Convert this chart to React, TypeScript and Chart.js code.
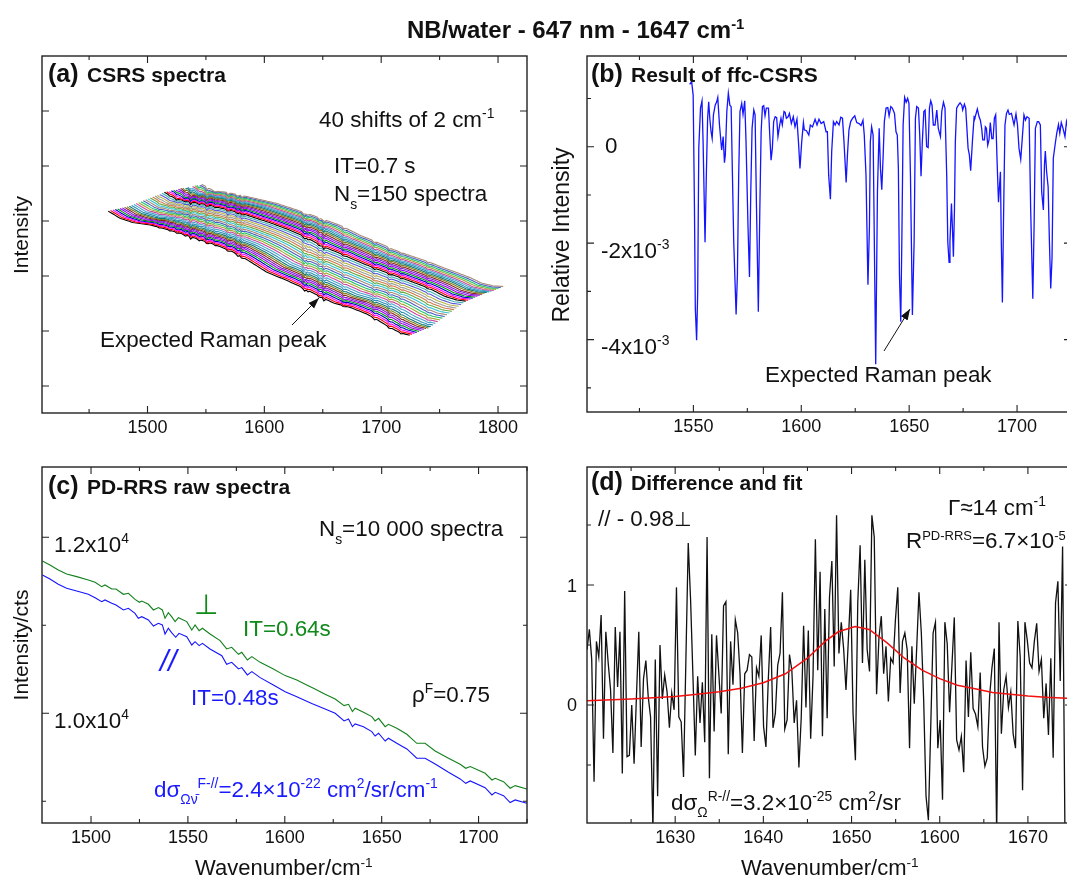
import React, { useEffect, useRef } from "react";
import { Chart, registerables } from "chart.js";

Chart.register(...registerables);

/* ---------- panel (a): CSRS spectra ----------
   The 41 traces cannot be read one by one. The lowest and
   highest trace, the height of each trace between them, and the fixed dips.
   Each trace is assembled from those lists, 2 cm-1 further along than the last. */
const csrsOffset = [0, 10.1, 21.5, 35.7, 50, 64.3, 78.5, 91.4, 105.7, 118.5, 135.7, 152.8, 164.2, 175.6, 192.7, 207, 221.3, 229.8, 239.8, 249.8, 258.4];
const csrsLowest = [4.18, 4.05, 3.97, 3.93, 3.85, 3.76, 3.66, 3.57, 3.45, 3.3, 3.07, 2.92, 2.81, 2.69, 2.51, 2.43, 2.31, 2.21, 2.08, 1.97, 1.92];
const csrsHighest = [4.67, 4.55, 4.52, 4.46, 4.39, 4.32, 4.22, 4.13, 4.02, 3.92, 3.74, 3.59, 3.48, 3.39, 3.27, 3.15, 3.04, 2.97, 2.87, 2.82, 2.81];
const csrsHeight = [0, 0.02, 0.04, 0.06, 0.08, 0.1, 0.12, 0.14, 0.16, 0.18, 0.21, 0.245, 0.28, 0.315, 0.35, 0.385, 0.42, 0.455, 0.49, 0.525, 0.56, 0.595, 0.63, 0.665, 0.7, 0.72, 0.74, 0.76, 0.78, 0.8, 0.82, 0.84, 0.86, 0.875, 0.89, 0.905, 0.92, 0.94, 0.96, 0.98, 1];
const csrsDipWn = [1510, 1519, 1525, 1532, 1537, 1544, 1551, 1558, 1569, 1577, 1581, 1634, 1637, 1647, 1651, 1668, 1694, 1707, 1717, 1740];
const csrsDipDepth = [0.015, 0.015, 0.02, 0.03, 0.05, 0.03, 0.05, 0.02, 0.04, 0.04, 0.04, 0.055, 0.035, 0.035, 0.05, 0.03, 0.035, 0.035, 0.02, 0.02];
const csrsColors = ["#000000", "#ff0000", "#ff00ff", "#0000c8", "#009a10", "#a000f0", "#7a20d0", "#8a2a20", "#80801a", "#127a78", "#3090b8", "#4aa4cc", "#c84aa0", "#a4a436", "#22c46a", "#4a62c4", "#a88a78", "#34c4d4", "#64a844", "#d07a48", "#9a9a9a", "#b4b448", "#5858d4", "#44b4b4"];
const csrsXMajor = [1500, 1600, 1700, 1800];
const csrsXMinor = [1450, 1550, 1650, 1750];
const csrsYMajor = [1, 2, 3, 4, 5, 6];

/* ---------- panel (b): Result of ffc-CSRS (units of 1e-3) ---------- */
const ffcX = [1548.3, 1549.2, 1549.9, 1550.5, 1550.9, 1551.5, 1552, 1552.5, 1553.3, 1554, 1554.5, 1555.4, 1556, 1556.6, 1557.1, 1557.6, 1558.2, 1558.7, 1559.3, 1560.1, 1560.8, 1561.3, 1562.1, 1563.1, 1563.8, 1564.4, 1564.8, 1565.5, 1566.2, 1566.9, 1567.5, 1568.1, 1568.7, 1569.3, 1569.8, 1570.4, 1571, 1571.6, 1572.4, 1573, 1573.8, 1574.4, 1575.3, 1576, 1576.6, 1577.2, 1578, 1578.6, 1579.2, 1580.1, 1580.8, 1581.4, 1582, 1582.6, 1583.2, 1583.8, 1584.8, 1585.4, 1586, 1586.6, 1587.2, 1587.9, 1588.6, 1589.2, 1590, 1590.6, 1591.2, 1592, 1592.5, 1593.1, 1593.9, 1594.5, 1595.4, 1596.3, 1597.1, 1598, 1598.7, 1599.4, 1600.2, 1601, 1601.4, 1602.4, 1603.5, 1604.2, 1605.2, 1606.4, 1607.3, 1608.2, 1609.2, 1610.4, 1611.5, 1612.1, 1612.7, 1613.5, 1614.1, 1614.9, 1615.7, 1616.4, 1617.5, 1618.3, 1619.1, 1619.8, 1620.8, 1621.4, 1622.1, 1622.9, 1623.8, 1624.8, 1625.7, 1626.8, 1627.7, 1628.6, 1629.2, 1630, 1630.9, 1631.6, 1632, 1632.6, 1633.3, 1634.5, 1635.3, 1636.1, 1636.7, 1637.3, 1637.9, 1638.5, 1639.3, 1640.1, 1640.7, 1641.5, 1642.2, 1643.2, 1643.9, 1644.5, 1645, 1645.5, 1646.1, 1646.6, 1647.2, 1647.9, 1648.6, 1649.3, 1649.9, 1650.6, 1651.5, 1652.3, 1652.9, 1653.5, 1654.3, 1654.9, 1655.5, 1656.1, 1656.8, 1657.4, 1658.1, 1658.8, 1659.4, 1660, 1660.6, 1661.2, 1662, 1662.8, 1663.5, 1664.5, 1665.1, 1665.9, 1666.6, 1667.4, 1667.9, 1668.5, 1668.9, 1669.6, 1670, 1670.5, 1671, 1671.4, 1672, 1672.8, 1673.6, 1674.4, 1674.8, 1675.6, 1676.2, 1677.3, 1677.9, 1678.5, 1679.3, 1680.1, 1680.5, 1681.6, 1682.4, 1683, 1683.6, 1684.1, 1684.9, 1685.3, 1685.8, 1686.4, 1687, 1687.6, 1688.3, 1688.9, 1689.5, 1690.1, 1690.7, 1691.4, 1691.8, 1692.3, 1692.7, 1693.2, 1693.8, 1694.4, 1695.1, 1695.8, 1696.4, 1697.4, 1698.6, 1699.5, 1700.2, 1700.9, 1701.7, 1702.3, 1703.2, 1703.9, 1704.6, 1705.6, 1706.3, 1707.3, 1707.9, 1708.5, 1709.4, 1710, 1710.8, 1711.4, 1712.2, 1712.7, 1713.1, 1713.7, 1714.4, 1715, 1715.6, 1716.2, 1716.8, 1717.6, 1718.4, 1719.2, 1719.8, 1720.5, 1721.3, 1722.2, 1722.9, 1723.5, 1725.3];
const ffcY = [1.29, 1.35, 1.07, -1.28, -3.35, -4.01, -3.01, -0.03, 0.8, 0.95, 0.1, -1.98, -0.59, 0.59, 0.93, 0.59, 0.31, 0.17, 0.66, 0.86, 0.93, 1.02, 0.45, -0.07, 0.21, -0.33, -0.17, 0.73, 1.11, 0.86, 0.83, -0.59, -1.97, -2.8, -3.48, -2.66, -0.59, 0.73, 0.9, 0.67, 0.95, 0.1, -1.63, -2.7, -0.93, 0.38, 0.76, 0.66, -1.14, -3.42, -1.28, 0.31, 0.83, 0.85, 0.64, 0.8, 0.8, 0.24, -0.28, -0.03, 0.52, 0.62, 0.6, 0.21, 0.45, 0.59, 0.45, 0.73, 0.71, 0.59, 0.62, 0.69, 0.48, 0.62, 0.41, 0.57, 0.1, -0.45, 0.1, 0.5, 0.35, 0.33, 0.24, 0.45, 0.41, 0.57, 0.45, 0.57, 0.48, 0.52, 0.31, 0.31, -0.59, -1.09, -0.1, 0.52, 0.45, 0.52, 0.45, 0.61, 0.59, 0.1, -0.74, -0.17, 0.35, 0.52, 0.59, 0.64, 0.5, 0.48, 0.44, 0.55, 0.24, -0.59, -2.86, -1.63, 0.1, 0.41, 0.24, -4.51, -0.93, 0.38, -0.45, -0.89, -0.24, 0.52, 0.8, 0.81, 0.64, 0.83, 0.8, 0.69, 0.31, 0.24, -0.45, -2.66, -3.63, -1.97, 0.45, 1.02, 0.92, 1, 0.9, -0.59, -3.49, -1.97, 0.59, 0.83, 0.8, 0.24, -0.61, 0.1, 0.73, 0.76, 0, -0.02, 0.8, 0.95, 0.86, 0.45, 0.45, 0.76, 0.38, 0.21, 0.73, 0.92, 0.8, -0.59, -1.97, -2.4, -1.97, -1.18, -1.63, -2.28, -1.28, 0.1, 0.8, 0.86, 0.91, 0.86, 0.76, 0.88, 0.8, -0.03, -0.17, -0.5, 0.1, 0.62, 0.6, 0.78, 0.62, 0.55, 0.38, 0.14, 0.14, 0.41, 0.38, 0.03, 0.14, 0.5, 0.17, 0.17, 0.59, 0.66, -0.24, -1.15, -0.86, -0.52, -1.97, -3.23, -1.28, 0.45, 0.69, 0.76, 0.67, 0.69, 0.45, 0.68, 0.45, -0.03, -0.26, 0.1, 0.66, 0.55, 0.62, 0.59, -1.28, -3.15, -1.63, 0.38, 0.52, 0.52, 0.45, -0.93, -1.31, -0.38, -0.09, -0.52, -0.83, -1.97, -2.94, -2.32, -0.24, 0.03, 0.28, 0.46, 0.28, 0.5, 0.38, 0.21, 0.52, 0.41, 0.66];
const ffcXMajor = [1550, 1600, 1650, 1700];
const ffcXMinor = [1525, 1575, 1625, 1675, 1725];
const ffcYMajor = [0, -2, -4];
const ffcYMinor = [1, -1, -3, -5];

/* ---------- panel (c): PD-RRS raw spectra ---------- */
const perpX = [1474.9, 1478.8, 1483.1, 1487.4, 1492.6, 1498.6, 1502.1, 1505.5, 1507.2, 1510.7, 1512.9, 1516.7, 1519.3, 1522.7, 1525, 1526.2, 1529.6, 1532.2, 1534.8, 1536.8, 1538.2, 1539.9, 1541.6, 1543.4, 1545.1, 1549.4, 1552, 1553.7, 1555.8, 1557.5, 1561.4, 1566.6, 1570, 1572.6, 1576.1, 1577.8, 1580.7, 1583, 1587.3, 1594.1, 1600.2, 1606.2, 1611.3, 1614.8, 1620.8, 1626, 1630.6, 1632.9, 1634.9, 1636.3, 1640.6, 1644.9, 1646.6, 1648.4, 1651.8, 1653.5, 1657.8, 1663, 1668.1, 1672.4, 1677.6, 1684.5, 1690.5, 1693.4, 1695.7, 1703.4, 1706.9, 1708.6, 1712.9, 1716.3, 1718.9, 1724.9];
const perpY = [11731, 11686, 11629, 11583, 11553, 11515, 11489, 11439, 11458, 11413, 11413, 11352, 11364, 11295, 11261, 11276, 11239, 11174, 11201, 11174, 11080, 11144, 11098, 11042, 11087, 11042, 10947, 11004, 10939, 10966, 10901, 10826, 10731, 10750, 10670, 10693, 10606, 10644, 10579, 10504, 10428, 10379, 10322, 10284, 10216, 10163, 10087, 10102, 10019, 10057, 10011, 9962, 9913, 9943, 9848, 9875, 9829, 9761, 9659, 9659, 9572, 9489, 9420, 9375, 9394, 9318, 9242, 9261, 9223, 9148, 9178, 9140];
const paraX = [1474.9, 1478.8, 1483.1, 1487.4, 1492.6, 1498.6, 1502.1, 1505.5, 1507.2, 1510.7, 1512.9, 1516.7, 1519.3, 1522.7, 1524.4, 1526.2, 1529.6, 1532.2, 1534.8, 1536.8, 1538.2, 1539.9, 1541.6, 1543.7, 1545.4, 1549.4, 1552, 1553.7, 1555.8, 1557.5, 1561.4, 1567.5, 1570, 1572.6, 1576.1, 1577.8, 1580.7, 1583, 1587.3, 1594.1, 1600.2, 1606.2, 1613.9, 1620.8, 1626, 1630.6, 1632.9, 1634.9, 1636.3, 1640.6, 1644.9, 1646.6, 1648.4, 1651.8, 1653.5, 1657.8, 1663, 1668.1, 1672.4, 1677.6, 1684.5, 1690.5, 1693.4, 1695.7, 1703.4, 1706.9, 1708.6, 1712.9, 1716.3, 1718.9, 1724.9];
const paraY = [11572, 11526, 11466, 11420, 11390, 11352, 11314, 11269, 11288, 11250, 11231, 11174, 11193, 11136, 11080, 11098, 11061, 10992, 11023, 11004, 10901, 10966, 10917, 10864, 10909, 10871, 10776, 10814, 10769, 10795, 10731, 10655, 10557, 10579, 10504, 10519, 10436, 10473, 10405, 10322, 10246, 10189, 10110, 10049, 10000, 9913, 9935, 9848, 9879, 9848, 9792, 9742, 9773, 9685, 9716, 9659, 9595, 9489, 9489, 9424, 9329, 9254, 9204, 9231, 9155, 9072, 9102, 9064, 8985, 9015, 8977];
const rawXMajor = [1500, 1550, 1600, 1650, 1700];
const rawXMinor = [1525, 1575, 1625, 1675, 1725];
const rawYMajor = [12000, 10000];
const rawYMinor = [11000, 9000];

/* ---------- panel (d): Difference and fit ---------- */
const diffY = [0.46, 0.63, 0.38, -0.64, 0.53, 0.4, 0.75, -0.28, 0.61, 0.35, 0.13, -0.4, 0.65, 0.15, 0.61, -0.57, 0.95, -0.43, -0.42, 0, -0.49, 0.07, 0.61, -0.35, 0.22, 0.37, 0.07, -0.1, -1.05, 0.38, -0.76, 0.5, 0.05, 0.25, 0.11, -0.19, 0.1, -0.04, 0.98, -0.1, -0.14, -0.6, 0.375, 1.35, 0.875, 0.24, -0.42, 0.24, -0.15, 0.19, -0.31, 1.4, -0.61, 0.59, -0.22, 0.58, 0.26, -0.07, 0.825, 0.86, -0.41, 0.53, 0.17, 0.71, 0.6, 0.26, -0.4, 0.26,
  0.29, 0.42, 0.4, -0.3, 0.31, 0.24, 0.58, -0.18, -0.35, 0.21, 0.65, -0.19, -0.07, 0.33, 0.43, 0.94, -0.2, -0.125, 0.42, 0.29, -0.15, 0.04, -0.52, -0.1, 0.66, -0.02, 0.62, -0.28, 0.24, 1.38, 0.29, 1.11, -0.26, 0.8, -0.11, 0.9, 1.2, 0.32, 1.58, 0.43, 0.69, 0.47, 0.125, 0.54, 0.96, -0.07, -0.46, 0.85, 1.33, 0.35, 1.21, 0.46, 0.28, 1.58, 1.4, 0.09, 0.56, 0.74, 0.26, 0.49, 0.03, 0.39, 0.35, 0.71, 0.98, 0.1, 0.53, 0.6,
  0.46, -0.36, 0.49, 0.01, 0.46, 0.94, 0.6, 0.04, -0.76, -0.96, -0.18, 0.6, 0.69, -0.36, -0.125, -0.79, 0.69, 0.51, -0.06, 0.33, 0.73, -0.29, -0.375, -0.26, -0.56, 0.37, -0.1, 0.44, -0.03, -0.075, -0.18, 0.27, -0.35, -0.51, -0.44, 0.07, 0.31, 0.47, -1.07, 0.69, -0.24, 0.125, 0.24, -0.02, 0.11, -0.24, -0.36, 0.7, 0.4, -0.71, 0.69, 0.54, 0.35, 0.31, 0.53, 0.68, 0.28, 0.38, -0.11, 0.18, -0.25, 0.39, -0.44, 0.85, 1.03, 0.2, 1.32, -1.07];
const diffStart = 1620;
const diffEnd = 1674.2;
const fitX = [1620, 1625, 1630, 1632.5, 1635, 1637.5, 1640, 1642.5, 1645, 1647, 1648.5, 1650.4, 1652, 1654, 1656, 1658, 1660, 1662, 1664, 1666, 1668, 1670, 1672, 1675];
const fitY = [0.035, 0.05, 0.07, 0.09, 0.11, 0.14, 0.185, 0.26, 0.39, 0.53, 0.61, 0.653, 0.63, 0.52, 0.39, 0.29, 0.22, 0.165, 0.135, 0.105, 0.09, 0.075, 0.065, 0.055];
const diffXMajor = [1630, 1640, 1650, 1660, 1670];
const diffXMinor = [1625, 1635, 1645, 1655, 1665, 1675];
const diffYMajor = [1, 0];
const diffYMinor = [1.5, 0.5, -0.5];
/* the reference prints 1600 under the 1660 tick */
const diffXLabels: Record<number, string> = { 1630: "1630", 1640: "1640", 1650: "1650", 1660: "1600", 1670: "1670" };

const SANS = '"Liberation Sans", Arial, Helvetica, sans-serif';

const lerp = (xs: number[], ys: number[], x: number) => {
  if (x <= xs[0]) return ys[0];
  for (let i = 1; i < xs.length; i++) {
    if (x <= xs[i]) return ys[i - 1] + ((ys[i] - ys[i - 1]) * (x - xs[i - 1])) / (xs[i] - xs[i - 1]);
  }
  return ys[ys.length - 1];
};

const csrsStart = 1466.4;
const csrsSpectra = csrsHeight.map((h, i) => {
  const pts: { x: number; y: number }[] = [];
  const span = csrsOffset[csrsOffset.length - 1];
  for (let o = 0; o <= span; o += 1.5) {
    const x = csrsStart + 2 * i + o;
    const lo = lerp(csrsOffset, csrsLowest, o);
    const hi = lerp(csrsOffset, csrsHighest, o);
    let dip = 0;
    csrsDipWn.forEach((w, k) => {
      dip += csrsDipDepth[k] * Math.max(0, 1 - Math.abs(x - w) / 1.6);
    });
    pts.push({ x, y: lo + h * (hi - lo) - dip });
  }
  return { data: pts, borderColor: csrsColors[i % csrsColors.length], borderWidth: 1.1, order: -i };
});

const pair = (xs: number[], ys: number[]) => xs.map((x, i) => ({ x, y: ys[i] }));
const diffX = diffY.map((_, i) => diffStart + (i * (diffEnd - diffStart)) / (diffY.length - 1));

type Panel = {
  left: number; top: number; width: number; height: number;
  pad: { left: number; right: number; top: number }; xAxisH: number;
  xMin: number; xMax: number; yMin: number; yMax: number;
  xMajor: number[]; xMinor: number[]; yMajor: number[]; yMinor: number[];
  xLabel?: (v: number) => string; datasets: any[];
};

const panels: Panel[] = [
  {
    left: 0, top: 40, width: 540, height: 415, pad: { left: 42, right: 13, top: 16 }, xAxisH: 42,
    xMin: 1409.7, xMax: 1824.8, yMin: 0.51, yMax: 7,
    xMajor: csrsXMajor, xMinor: csrsXMinor, yMajor: csrsYMajor, yMinor: [], datasets: csrsSpectra,
  },
  {
    left: 545, top: 40, width: 535, height: 415, pad: { left: 42, right: 9, top: 16 }, xAxisH: 43,
    xMin: 1500.7, xMax: 1725, yMin: -5.5, yMax: 1.88,
    xMajor: ffcXMajor, xMinor: ffcXMinor, yMajor: ffcYMajor, yMinor: ffcYMinor,
    datasets: [{ data: pair(ffcX, ffcY), borderColor: "#1414ff", borderWidth: 1.3 }],
  },
  {
    left: 0, top: 455, width: 540, height: 424, pad: { left: 42, right: 13, top: 12 }, xAxisH: 56,
    xMin: 1474.7, xMax: 1725, yMin: 8753, yMax: 12799,
    xMajor: rawXMajor, xMinor: rawXMinor, yMajor: rawYMajor, yMinor: rawYMinor,
    datasets: [
      { data: pair(perpX, perpY), borderColor: "#13801c", borderWidth: 1.1 },
      { data: pair(paraX, paraY), borderColor: "#1414ff", borderWidth: 1.1 },
    ],
  },
  {
    left: 545, top: 455, width: 535, height: 424, pad: { left: 42, right: 8, top: 12 }, xAxisH: 56,
    xMin: 1620, xMax: 1675, yMin: -0.983, yMax: 1.983,
    xMajor: diffXMajor, xMinor: diffXMinor, yMajor: diffYMajor, yMinor: diffYMinor,
    xLabel: (v) => diffXLabels[v] ?? String(v),
    datasets: [
      { data: pair(fitX, fitY), borderColor: "#f01010", borderWidth: 1.5 },
      { data: pair(diffX, diffY), borderColor: "#111111", borderWidth: 1.3 },
    ],
  },
];

const framePlugin = (p: Panel) => ({
  id: "frame",
  afterDatasetsDraw(chart: any) {
    const { ctx, chartArea: a, scales } = chart;
    ctx.save();
    ctx.strokeStyle = "#222222";
    ctx.lineWidth = 1.4;
    ctx.strokeRect(a.left, a.top, a.right - a.left, a.bottom - a.top);
    ctx.lineWidth = 1.1;
    const xt = (v: number, len: number) => {
      const px = scales.x.getPixelForValue(v);
      ctx.beginPath();
      ctx.moveTo(px, a.bottom); ctx.lineTo(px, a.bottom - len);
      ctx.moveTo(px, a.top); ctx.lineTo(px, a.top + len);
      ctx.stroke();
    };
    const yt = (v: number, len: number) => {
      const py = scales.y.getPixelForValue(v);
      ctx.beginPath();
      ctx.moveTo(a.left, py); ctx.lineTo(a.left + len, py);
      ctx.moveTo(a.right, py); ctx.lineTo(a.right - len, py);
      ctx.stroke();
    };
    p.xMajor.forEach((v) => xt(v, 7));
    p.xMinor.forEach((v) => xt(v, 4));
    p.yMajor.forEach((v) => yt(v, 7));
    p.yMinor.forEach((v) => yt(v, 4));
    ctx.restore();
  },
});

/* ---------- text helpers ---------- */
const Sup = ({ children, f = 0.62, r = 0.62 }: any) => (
  <span style={{ fontSize: `${f}em`, verticalAlign: `${r}em`, lineHeight: 0 }}>{children}</span>
);
const Sub = ({ children, f = 0.62, r = -0.55 }: any) => (
  <span style={{ fontSize: `${f}em`, verticalAlign: `${r}em`, lineHeight: 0 }}>{children}</span>
);
const T = ({ x, y, s = 22, c = "#111", b = false, i = false, family = SANS, children }: any) => (
  <span
    style={{
      position: "absolute", left: x, top: y - 0.3465 * s, fontSize: s, lineHeight: 0, color: c,
      fontWeight: b ? 700 : 400, fontStyle: i ? "italic" : "normal", fontFamily: family, whiteSpace: "pre",
    }}
  >
    {children}
  </span>
);
const R = ({ x, y, s = 21, children }: any) => (
  <span
    style={{
      position: "absolute", left: x, top: y, fontSize: s, lineHeight: 1, color: "#111", fontFamily: SANS,
      whiteSpace: "pre", transform: "translate(-50%,-50%) rotate(-90deg)",
    }}
  >
    {children}
  </span>
);

const BLUE = "#1a1aff";
const GREEN = "#0f8a1a";

export default function App() {
  const refs = useRef<(HTMLCanvasElement | null)[]>([]);
  useEffect(() => {
    const charts = panels.map((p, k) =>
      new Chart(refs.current[k] as HTMLCanvasElement, {
        type: "line",
        data: { datasets: p.datasets },
        plugins: [framePlugin(p)],
        options: {
          animation: false,
          responsive: false,
          devicePixelRatio: 1,
          layout: { padding: { left: p.pad.left, right: p.pad.right, top: p.pad.top, bottom: 0 } },
          elements: { point: { radius: 0 }, line: { tension: 0 } },
          plugins: { legend: { display: false }, tooltip: { enabled: false } },
          scales: {
            x: {
              type: "linear", min: p.xMin, max: p.xMax,
              grid: { display: false, drawTicks: false }, border: { display: false },
              afterBuildTicks: (s: any) => { s.ticks = p.xMajor.map((value) => ({ value })); },
              afterFit: (s: any) => { s.height = p.xAxisH; },
              ticks: {
                autoSkip: false, maxRotation: 0, padding: 4, color: "#111",
                font: { family: SANS, size: 18 },
                callback: (v: any) => (p.xLabel ? p.xLabel(Number(v)) : String(v)),
              },
            },
            y: {
              type: "linear", min: p.yMin, max: p.yMax,
              grid: { display: false, drawTicks: false }, border: { display: false },
              ticks: { display: false },
              afterFit: (s: any) => { s.width = 0; },
            },
          },
        },
      } as any)
    );
    return () => charts.forEach((c) => c.destroy());
  }, []);

  return (
    <div style={{ position: "fixed", left: 0, top: 0, width: 1067, height: 879, overflow: "hidden", background: "#fff" }}>
      {panels.map((p, k) => (
        <canvas
          key={k}
          ref={(el) => { refs.current[k] = el; }}
          width={p.width}
          height={p.height}
          style={{ position: "absolute", left: p.left, top: p.top, width: p.width, height: p.height }}
        />
      ))}

      <svg width={1067} height={879} style={{ position: "absolute", left: 0, top: 0, pointerEvents: "none" }}>
        <defs>
          <marker id="head" markerWidth="12" markerHeight="10" refX="11" refY="4" orient="auto" markerUnits="userSpaceOnUse">
            <path d="M0,0 L11,4 L0,8 Z" fill="#111" />
          </marker>
        </defs>
        <line x1={292} y1={325} x2={319} y2={298} stroke="#111" strokeWidth={1} markerEnd="url(#head)" />
        <line x1={884} y1={351} x2={910} y2={309} stroke="#111" strokeWidth={1} markerEnd="url(#head)" />
      </svg>

      <T x={407} y={32} s={24} b>NB/water - 647 nm - 1647 cm<Sup>-1</Sup></T>

      {/* panel a */}
      <T x={48} y={82} s={25} b>(a)</T>
      <T x={87} y={82} s={21} b>CSRS spectra</T>
      <T x={319} y={121} s={22.4}>40 shifts of 2 cm<Sup>-1</Sup></T>
      <T x={334} y={174} s={22.4}>IT=0.7 s</T>
      <T x={334} y={202} s={22.4}>N<Sub>s</Sub>=150 spectra</T>
      <T x={100} y={348} s={22.4}>Expected Raman peak</T>
      <R x={20} y={235}>Intensity</R>

      {/* panel b */}
      <T x={591} y={82} s={25} b>(b)</T>
      <T x={631} y={82} s={21} b>Result of ffc-CSRS</T>
      <T x={605} y={154} s={22.4}>0</T>
      <T x={601} y={252} s={22.4}>-2x10<Sup>-3</Sup></T>
      <T x={601} y={348} s={22.4}>-4x10<Sup>-3</Sup></T>
      <T x={765} y={383} s={22.4}>Expected Raman peak</T>
      <R x={561} y={235} s={23}>Relative Intensity</R>

      {/* panel c */}
      <T x={48} y={494} s={25} b>(c)</T>
      <T x={87} y={494} s={21} b>PD-RRS raw spectra</T>
      <T x={319} y={537} s={22.4}>N<Sub>s</Sub>=10 000 spectra</T>
      <T x={54} y={546} s={22.4}>1.2x10<Sup>4</Sup></T>
      <T x={54} y={722} s={22.4}>1.0x10<Sup>4</Sup></T>
      <T x={243} y={637} s={22.4} c={GREEN}>IT=0.64s</T>
      <T x={191} y={706} s={22.4} c={BLUE}>IT=0.48s</T>
      <T x={412} y={696} s={22.4}>ρ<Sup>F</Sup>=0.75</T>
      <T x={194} y={615} s={28} c={GREEN} family='"DejaVu Sans"'>⊥</T>
      <T x={160} y={671} s={30} c={BLUE} i>//</T>
      <T x={154} y={791} s={22.4} c={BLUE}>dσ<Sub>Ων̄</Sub><Sup>F-//</Sup>=2.4×10<Sup>-22</Sup> cm<Sup>2</Sup>/sr/cm<Sup>-1</Sup></T>
      <R x={20} y={645}>Intensity/cts</R>
      <T x={195} y={871} s={22}>Wavenumber/cm<Sup>-1</Sup></T>

      {/* panel d */}
      <T x={591} y={490} s={25} b>(d)</T>
      <T x={631} y={490} s={21} b>Difference and fit</T>
      <T x={598} y={527} s={22.4}>// - 0.98<span style={{ fontFamily: '"DejaVu Sans"', fontSize: ".9em" }}>⊥</span></T>
      <T x={948} y={509} s={22.4}>Γ≈14 cm<Sup>-1</Sup></T>
      <T x={906} y={544} s={22.4}>R<Sup f={0.58}>PD-RRS</Sup>=6.7×10<Sup f={0.58}>-5</Sup></T>
      <T x={671} y={804} s={22.4}>dσ<Sub>Ω</Sub><Sup>R-//</Sup>=3.2×10<Sup>-25</Sup> cm<Sup>2</Sup>/sr</T>
      <T x={567} y={592} s={18}>1</T>
      <T x={567} y={711} s={18}>0</T>
      <T x={741} y={871} s={22}>Wavenumber/cm<Sup>-1</Sup></T>
    </div>
  );
}
